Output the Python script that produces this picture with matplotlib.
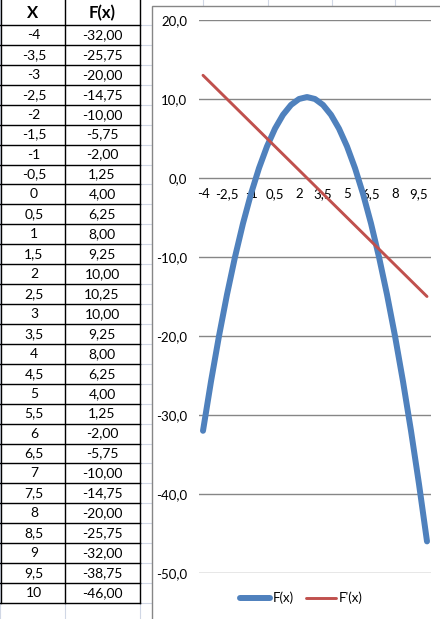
import matplotlib
matplotlib.use("Agg")
import matplotlib.pyplot as plt

x_vals = [-4, -3.5, -3, -2.5, -2, -1.5, -1, -0.5, 0, 0.5, 1, 1.5, 2, 2.5, 3,
          3.5, 4, 4.5, 5, 5.5, 6, 6.5, 7, 7.5, 8, 8.5, 9, 9.5, 10]
f_vals = [-32.00, -25.75, -20.00, -14.75, -10.00, -5.75, -2.00, 1.25, 4.00,
          6.25, 8.00, 9.25, 10.00, 10.25, 10.00, 9.25, 8.00, 6.25, 4.00, 1.25,
          -2.00, -5.75, -10.00, -14.75, -20.00, -25.75, -32.00, -38.75, -46.00]
fprime_vals = [13, 12, 11, 10, 9, 8, 7, 6, 5, 4, 3, 2, 1, 0, -1, -2, -3, -4,
               -5, -6, -7, -8, -9, -10, -11, -12, -13, -14, -15]
y_ticks = [20, 10, 0, -10, -20, -30, -40, -50]

W, H = 440, 619
FONT = "Lato"
BLUE = "#4F81BD"
RED = "#C0504D"
XL_GRID = "#D0D7E5"


def comma(v, fmt):
    return (fmt % v).replace(".", ",")


fig = plt.figure(figsize=(W / 100, H / 100), dpi=100)

# ---- worksheet background (pixel coordinates) ----
bg = fig.add_axes([0, 0, 1, 1])
bg.set_xlim(0, W)
bg.set_ylim(H, 0)
bg.axis("off")

row_top = 25.0
row_h = 19.93
n_rows = len(x_vals)
table_bottom = row_top + row_h * n_rows

# faint Excel cell grid
for cx in [0, 65, 140, 203, 268, 332, 395]:
    bg.plot([cx, cx], [0, H], color=XL_GRID, lw=0.8, zorder=0)
k = 0
while row_top + row_h * k < H + row_h:
    yy = row_top + row_h * k
    bg.plot([0, W], [yy, yy], color=XL_GRID, lw=0.8, zorder=0)
    k += 1

# table borders
for cx in [0.5, 65, 140]:
    bg.plot([cx, cx], [0, table_bottom], color="black", lw=1.0, zorder=2)
for i in range(n_rows + 1):
    yy = row_top + row_h * i
    bg.plot([0, 140], [yy, yy], color="black", lw=1.0, zorder=2)

# table text
bg.text(33, 13, "X", ha="center", va="center", fontsize=12,
        fontweight="bold", family=FONT, zorder=3)
bg.text(102, 13, "F(x)", ha="center", va="center", fontsize=12,
        fontweight="bold", family=FONT, zorder=3)
for i, (xv, fv) in enumerate(zip(x_vals, f_vals)):
    yc = row_top + row_h * (i + 0.5)
    bg.text(34, yc, comma(xv, "%g"), ha="center", va="center", fontsize=10,
            family=FONT, zorder=3)
    bg.text(102, yc, comma(fv, "%.2f"), ha="center", va="center",
            fontsize=10, family=FONT, zorder=3)

# chart area
bg.add_patch(plt.Rectangle((152, 6), 300, 630, facecolor="white",
                           edgecolor="#868686", lw=1.0, zorder=4))

# ---- plot area ----
left, right = 199, 431
top, bottom = 20, 573
ax = fig.add_axes([left / W, 1 - bottom / H, (right - left) / W,
                   (bottom - top) / H])
ax.set_facecolor("none")
ax.set_zorder(5)
# spine position first: it resets the tick objects
ax.spines["bottom"].set_position(("data", 0))
for s in ["top", "right", "left", "bottom"]:
    ax.spines[s].set_visible(False)

idx = list(range(n_rows))
ax.plot(idx, f_vals, color=BLUE, lw=4.3, solid_capstyle="round",
        solid_joinstyle="round", label="F(x)", zorder=3)
ax.plot(idx, fprime_vals, color=RED, lw=2.1, solid_capstyle="round",
        label="F'(x)", zorder=4)

ax.set_xlim(-0.5, n_rows - 0.5)
ax.set_ylim(-50, 20)
ax.set_yticks(y_ticks)
ax.set_yticklabels([comma(v, "%.1f") for v in y_ticks], family=FONT,
                   fontsize=9.5)
ax.yaxis.grid(True, color="#868686", lw=1.0)
ax.set_axisbelow(True)

tick_idx = idx[::3]
ax.set_xticks(tick_idx)
ax.set_xticklabels([comma(x_vals[i], "%g") for i in tick_idx], family=FONT,
                   fontsize=9.5)
ax.tick_params(axis="both", length=0)
ax.tick_params(axis="x", pad=7.5)
ax.tick_params(axis="y", pad=8.5)

ax.legend(loc="center", bbox_to_anchor=(301 / W, 1 - 598 / H),
          bbox_transform=fig.transFigure, ncol=2, frameon=False,
          handlelength=2.3, handletextpad=0.2, columnspacing=0.9,
          prop={"family": FONT, "size": 9.5})

fig.savefig("out.png", dpi=100)
